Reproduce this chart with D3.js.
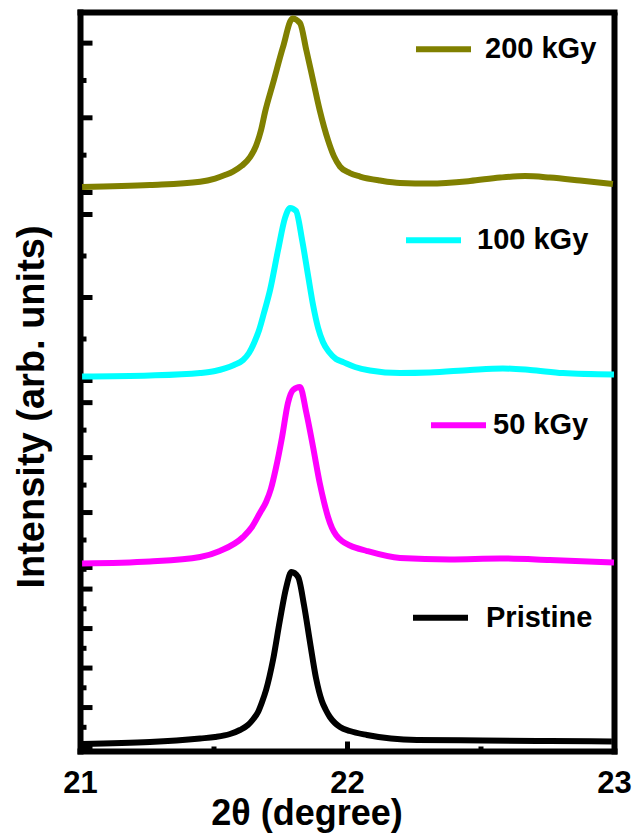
<!DOCTYPE html>
<html>
<head>
<meta charset="utf-8">
<script src="https://cdn.jsdelivr.net/npm/d3@7"></script>
<style>
  html, body { margin: 0; padding: 0; background: #fff; }
  svg text { font-family: "Liberation Sans", Arial, sans-serif; font-weight: bold; fill: #000; }
</style>
</head>
<body>
<svg id="chart" width="637" height="837"></svg>
<script>
// ---- data: 2θ (degree) and intensity (counts) for each sample ----
const thetaPristine = [21.006, 21.26, 21.448, 21.504, 21.56, 21.597, 21.627, 21.646, 21.665, 21.68, 21.695, 21.721, 21.747, 21.77, 21.79, 21.815, 21.837, 21.86, 21.882, 21.904, 21.919, 21.934, 21.953, 21.972, 22.009, 22.073, 22.26, 22.507, 22.758, 22.99];
const intPristine   = [2077, 2128, 2217, 2254, 2330, 2432, 2558, 2698, 2887, 3141, 3445, 4204, 5217, 6027, 6432, 6306, 5597, 4635, 3748, 3166, 2938, 2761, 2609, 2508, 2406, 2305, 2179, 2166, 2153, 2141];

const theta50 = [21.006, 21.26, 21.448, 21.522, 21.609, 21.642, 21.672, 21.695, 21.713, 21.732, 21.755, 21.777, 21.796, 21.822, 21.846, 21.871, 21.896, 21.912, 21.927, 21.942, 21.957, 21.979, 22.009, 22.073, 22.197, 22.384, 22.571, 22.758, 22.998];
const int50   = [1073, 1109, 1191, 1300, 1555, 1737, 1992, 2192, 2429, 2811, 3375, 3994, 4231, 4285, 3812, 3193, 2538, 2192, 1919, 1719, 1592, 1482, 1400, 1300, 1173, 1146, 1164, 1137, 1091];

const theta100 = [21.006, 21.26, 21.448, 21.504, 21.541, 21.575, 21.609, 21.631, 21.65, 21.669, 21.687, 21.71, 21.74, 21.766, 21.785, 21.807, 21.83, 21.852, 21.871, 21.89, 21.908, 21.931, 21.957, 21.983, 22.028, 22.084, 22.197, 22.309, 22.459, 22.582, 22.684, 22.807, 22.998];
const int100   = [1048, 1060, 1090, 1114, 1145, 1187, 1247, 1331, 1452, 1609, 1813, 2091, 2573, 2959, 3079, 3043, 2693, 2271, 1910, 1633, 1464, 1343, 1259, 1223, 1163, 1121, 1090, 1096, 1127, 1145, 1127, 1090, 1072];

const theta200 = [21.006, 21.26, 21.448, 21.504, 21.541, 21.571, 21.605, 21.635, 21.657, 21.676, 21.691, 21.721, 21.758, 21.794, 21.822, 21.846, 21.871, 21.896, 21.927, 21.949, 21.972, 22.009, 22.047, 22.122, 22.197, 22.309, 22.459, 22.571, 22.665, 22.758, 22.871, 22.994];
const int200   = [1073, 1100, 1144, 1187, 1234, 1280, 1360, 1474, 1621, 1834, 2075, 2462, 2942, 3330, 3270, 2902, 2502, 2101, 1701, 1487, 1347, 1260, 1214, 1160, 1127, 1120, 1154, 1200, 1220, 1200, 1160, 1113];

// intensity range shown in each stacked layer (bottom to top)
const yMinPristine = 1900, yMaxPristine = 6546;
const yMin50 = 1000, yMax50 = 4403;
const yMin100 = 1000, yMax100 = 3265;
const yMin200 = 1000, yMax200 = 3410;

const sampleLabels = ["Pristine", "50 kGy", "100 kGy", "200 kGy"];
const xTickValues = [21, 22, 23];
const xMinorTicks = [21.5, 22.5];
const xTitle = "2θ (degree)";
const yTitle = "Intensity (arb. units)";

// ---- layout ----
const svg = d3.select("#chart");
const plotLeft = 80.5, plotRight = 614.5, plotTop = 12.5, plotBottom = 751.5;
// layer boundaries, bottom layer first
const layerBounds = [[567.5, 751], [380.5, 567.5], [192.5, 380.5], [12.5, 192.5]];
const colors = ["#000000", "#ff00ff", "#00ffff", "#808000"];
const legendPos = [
  { y: 50.2, x1: 413, x2: 468, tx: 486 },
  { y: 44.8, x1: 431, x2: 486, tx: 493 },
  { y: 47.8, x1: 406, x2: 461, tx: 477 },
  { y: 36.8, x1: 416, x2: 471, tx: 485 }
];

const series = [
  { t: thetaPristine, v: intPristine, lo: yMinPristine, hi: yMaxPristine },
  { t: theta50, v: int50, lo: yMin50, hi: yMax50 },
  { t: theta100, v: int100, lo: yMin100, hi: yMax100 },
  { t: theta200, v: int200, lo: yMin200, hi: yMax200 }
];

const x = d3.scaleLinear().domain([21, 23]).range([plotLeft, plotRight]);

const axisW = 6;

// frame: left, top, right and bottom lines
const frame = svg.append("g").attr("stroke", "#000").attr("stroke-width", axisW).attr("fill", "none");
frame.append("path").attr("d", `M${plotLeft},${plotTop - 3} V${plotBottom + 3}`);
frame.append("path").attr("d", `M${plotLeft - 3},${plotTop} H${plotRight + 3}`);
frame.append("path").attr("d", `M${plotRight},${plotTop} V${plotBottom + 3}`);
frame.append("path").attr("d", `M${plotLeft - 3},${plotBottom} H${plotRight + 3}`);

// x ticks (pointing inward)
const xt = svg.append("g").attr("stroke", "#000").attr("stroke-width", 5);
xTickValues.slice(1, -1).forEach(v => {
  xt.append("line").attr("x1", x(v)).attr("x2", x(v)).attr("y1", plotBottom).attr("y2", plotBottom - 10);
});
xMinorTicks.forEach(v => {
  xt.append("line").attr("x1", x(v)).attr("x2", x(v)).attr("y1", plotBottom).attr("y2", plotBottom - 5);
});

// x tick labels
svg.append("g").selectAll("text").data(xTickValues).join("text")
  .attr("x", d => x(d)).attr("y", 793)
  .attr("text-anchor", "middle").attr("font-size", 31)
  .text(d => d);

// x title
svg.append("text").attr("x", 307).attr("y", 825)
  .attr("text-anchor", "middle").attr("font-size", 36).text(xTitle);

// y title
svg.append("text").attr("transform", "translate(44,407) rotate(-90)")
  .attr("text-anchor", "middle").attr("font-size", 38).text(yTitle);

const clip = svg.append("defs").append("clipPath").attr("id", "plotclip");
clip.append("rect").attr("x", plotLeft - 1).attr("y", 0).attr("width", plotRight - plotLeft + 2).attr("height", 837);

series.forEach((s, i) => {
  const [y0, y1] = layerBounds[i];
  const y = d3.scaleLinear().domain([s.lo, s.hi]).range([y1, y0]);

  // left-axis ticks of this layer: major every 1000, minor every 500
  const ticks = d3.range(Math.ceil(s.lo / 500) * 500, s.hi + 1, 500);
  const tg = svg.append("g").attr("stroke", "#000").attr("stroke-width", 5);
  ticks.forEach(t => {
    const major = t % 1000 === 0;
    tg.append("line")
      .attr("x1", plotLeft).attr("x2", plotLeft + (major ? 12 : 6))
      .attr("y1", y(t)).attr("y2", y(t));
  });

  // curve
  const line = d3.line()
    .x((d, k) => x(s.t[k]))
    .y(d => y(d))
    .curve(d3.curveMonotoneX);
  svg.append("path")
    .attr("clip-path", "url(#plotclip)")
    .attr("d", line(s.v))
    .attr("fill", "none")
    .attr("stroke", colors[i])
    .attr("stroke-width", 6)
    .attr("stroke-linejoin", "round");

  // legend
  const lp = legendPos[i];
  svg.append("line")
    .attr("x1", lp.x1).attr("x2", lp.x2)
    .attr("y1", y0 + lp.y).attr("y2", y0 + lp.y)
    .attr("stroke", colors[i]).attr("stroke-width", 6);
  svg.append("text")
    .attr("x", lp.tx).attr("y", y0 + lp.y + 9)
    .attr("font-size", 29)
    .text(sampleLabels[i]);
});
</script>
</body>
</html>
